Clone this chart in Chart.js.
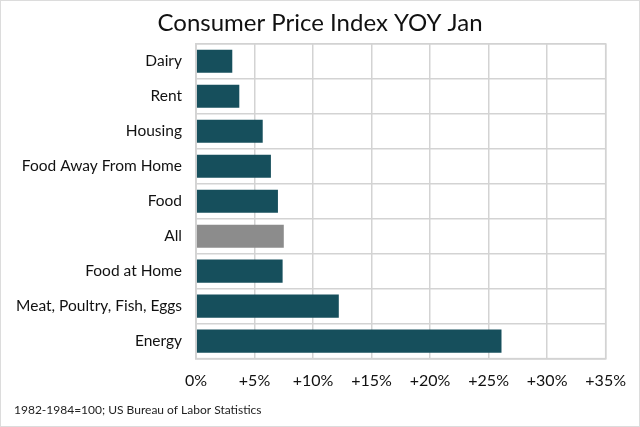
<!DOCTYPE html>
<html>
<head>
<meta charset="utf-8">
<script src="https://cdn.jsdelivr.net/npm/chart.js@4/dist/chart.umd.min.js"></script>
<style>
  html, body { margin: 0; padding: 0; background: #fff; }
  #wrap { width: 640px; height: 427px; box-sizing: border-box; border: 1px solid #dcdcdc; background: #fff; }
  canvas { display: block; }
</style>
</head>
<body>
<div id="wrap"><canvas id="c" width="638" height="425"></canvas></div>
<script>
const categories = ["Dairy", "Rent", "Housing", "Food Away From Home", "Food", "All", "Food at Home", "Meat, Poultry, Fish, Eggs", "Energy"];
const yoyChange = [3.1, 3.7, 5.7, 6.4, 7.0, 7.5, 7.4, 12.2, 26.1];
const xTicks = [0, 5, 10, 15, 20, 25, 30, 35];
const titleText = "Consumer Price Index YOY Jan";
const sourceText = "1982-1984=100; US Bureau of Labor Statistics";

const TEAL = "#164f5c";
const GRAY = "#8c8c8c";
const GRID = "#d3d3d3";
const FONT = "Lato, 'Open Sans', sans-serif";

new Chart(document.getElementById("c"), {
  type: "bar",
  data: {
    labels: categories,
    datasets: [{
      data: yoyChange,
      backgroundColor: ctx => categories[ctx.dataIndex] === "All" ? GRAY : TEAL,
      borderWidth: 0,
      categoryPercentage: 1.0,
      barPercentage: 0.66
    }]
  },
  options: {
    indexAxis: "y",
    responsive: false,
    animation: false,
    devicePixelRatio: 1,
    layout: { padding: { left: 13, right: 13, top: 0, bottom: 0 } },
    plugins: {
      legend: { display: false },
      tooltip: { enabled: false },
      title: {
        display: true,
        text: titleText,
        color: "#111",
        font: { family: FONT, size: 24, weight: "normal" },
        padding: { top: 8, bottom: 6 }
      },
      subtitle: {
        display: true,
        text: sourceText,
        position: "bottom",
        align: "start",
        color: "#222",
        font: { family: FONT, size: 12, weight: "normal" },
        padding: { top: 13, bottom: 9 }
      }
    },
    scales: {
      x: {
        type: "linear",
        min: xTicks[0],
        max: xTicks[xTicks.length - 1],
        afterBuildTicks: scale => { scale.ticks = xTicks.map(v => ({ value: v })); },
        afterFit: scale => { scale.height = 31; },
        ticks: {
          callback: v => v === 0 ? "0%" : "+" + v + "%",
          color: "#111",
          font: { family: FONT, size: 16 },
          padding: 13,
          maxRotation: 0
        },
        grid: { color: GRID, lineWidth: 1.5, drawTicks: false },
        border: { display: true, color: GRID, width: 1.5 }
      },
      y: {
        afterFit: scale => { scale.width = 182; },
        ticks: {
          color: "#111",
          font: { family: FONT, size: 15.5 },
          padding: 14
        },
        grid: { color: GRID, lineWidth: 1.5, drawTicks: false, offset: true },
        border: { display: true, color: GRID, width: 1.5 }
      },
      yRight: {
        type: "category",
        labels: categories,
        position: "right",
        afterFit: scale => { scale.width = 17; },
        ticks: { display: false },
        grid: { display: false },
        border: { display: false }
      }
    }
  },
  plugins: [{
    id: "frame",
    afterDraw(chart) {
      const a = chart.chartArea, c = chart.ctx;
      c.save();
      c.strokeStyle = GRID;
      c.lineWidth = 1.5;
      c.strokeRect(a.left, a.top, a.right - a.left, a.bottom - a.top);
      c.restore();
    }
  }]
});
</script>
</body>
</html>
